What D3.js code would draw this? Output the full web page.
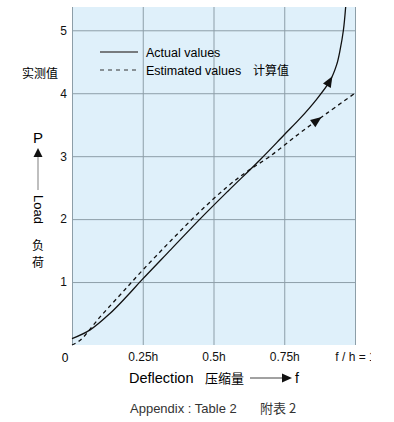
<!DOCTYPE html>
<html>
<head>
<meta charset="utf-8">
<script src="https://cdn.jsdelivr.net/npm/d3@7"></script>
<style>
  body { margin: 0; background: #fff; }
  svg { display: block; font-family: "Liberation Sans", "Noto Sans CJK SC", sans-serif; }
  .grid line { stroke: #8d9ea8; stroke-width: 1; }
  .grid path { display: none; }
  .ticks path { display: none; }
  .ticks text { font-size: 12px; fill: #111; font-family: "Liberation Sans", sans-serif; }
</style>
</head>
<body>
<svg id="chart" width="394" height="422"></svg>
<script>
// data: deflection f/h and load P
const actualX = [0, 0.064, 0.134, 0.193, 0.246, 0.35, 0.452, 0.55, 0.664, 0.75, 0.806, 0.86, 0.912, 0.935, 0.947, 0.959, 0.967];
const actualY = [0.10, 0.24, 0.50, 0.77, 1.03, 1.52, 2.00, 2.44, 2.94, 3.34, 3.60, 3.88, 4.20, 4.45, 4.68, 5.00, 5.37];
const estimatedX = [0, 0.03, 0.1, 0.175, 0.252, 0.35, 0.452, 0.55, 0.62, 0.7, 0.8, 0.9, 1.0];
const estimatedY = [0, 0.08, 0.45, 0.82, 1.20, 1.66, 2.12, 2.52, 2.76, 3.00, 3.35, 3.68, 4.00];
const arrowAt = [0.92, 0.882]; // x of arrowheads on actual / estimated
const xTicks = [0.25, 0.5, 0.75, 1];
const xTickLabels = ["0.25h", "0.5h", "0.75h", "f / h = 1"];
const yTicks = [1, 2, 3, 4, 5];

const svg = d3.select('#chart');
const plotLeft = 72, plotRight = 355, plotTop = 7, plotBottom = 345;

const xScale = d3.scaleLinear().domain([0, 1]).range([plotLeft, plotRight]);
const yScale = d3.scaleLinear().domain([0, 5.37]).range([plotBottom, plotTop]);

svg.append('rect')
  .attr('x', xScale(0))
  .attr('y', yScale(5.37))
  .attr('width', xScale(1) - xScale(0))
  .attr('height', yScale(0) - yScale(5.37))
  .attr('fill', '#dff0fa');

// grid lines
svg.append('g')
  .attr('class', 'grid')
  .attr('transform', `translate(0, ${plotBottom})`)
  .call(d3.axisBottom(xScale).tickValues([0, 0.25, 0.5, 0.75, 1]).tickSize(-(plotBottom - plotTop)).tickFormat(''));

svg.append('g')
  .attr('class', 'grid')
  .attr('transform', `translate(${plotLeft}, 0)`)
  .call(d3.axisLeft(yScale).tickValues(yTicks).tickSize(-(plotRight - plotLeft)).tickFormat(''));

// tick labels
svg.append('g')
  .attr('class', 'ticks')
  .attr('transform', `translate(${plotLeft}, 0)`)
  .call(d3.axisLeft(yScale).tickValues(yTicks).tickSize(0).tickPadding(5).tickFormat(d3.format('d')));

svg.append('defs').append('clipPath').attr('id', 'clipx')
  .append('rect').attr('x', 0).attr('y', -20).attr('width', 371).attr('height', 60);

svg.append('g')
  .attr('class', 'ticks')
  .attr('clip-path', 'url(#clipx)')
  .attr('transform', `translate(0, ${plotBottom})`)
  .call(d3.axisBottom(xScale).tickValues(xTicks).tickSize(0).tickPadding(7)
    .tickFormat((d, i) => xTickLabels[i]));

svg.append('text')
  .attr('x', xScale(0) - 7)
  .attr('y', plotBottom + 17)
  .attr('text-anchor', 'middle')
  .style('font-size', '12px')
  .text('0');

// curves
const actual = actualX.map((x, i) => [x, actualY[i]]);
const estimated = estimatedX.map((x, i) => [x, estimatedY[i]]);
const line = d3.line()
  .x(d => xScale(d[0]))
  .y(d => yScale(d[1]))
  .curve(d3.curveCatmullRom.alpha(0.5));

const actualPath = svg.append('path')
  .datum(actual)
  .attr('d', line)
  .attr('fill', 'none')
  .attr('stroke', '#111')
  .attr('stroke-width', 1.3);

const estimatedPath = svg.append('path')
  .datum(estimated)
  .attr('d', line)
  .attr('fill', 'none')
  .attr('stroke', '#111')
  .attr('stroke-width', 1.3)
  .attr('stroke-dasharray', '4,3.5');

function arrowHead(path, xVal) {
  const node = path.node();
  const total = node.getTotalLength();
  const target = xScale(xVal);
  let lo = 0, hi = total;
  for (let k = 0; k < 40; k++) {
    const mid = (lo + hi) / 2;
    if (node.getPointAtLength(mid).x < target) lo = mid; else hi = mid;
  }
  const tip = node.getPointAtLength(lo);
  const back = node.getPointAtLength(lo - 11);
  const dx = tip.x - back.x, dy = tip.y - back.y;
  const len = Math.hypot(dx, dy);
  const nx = -dy / len * 4.5, ny = dx / len * 4.5;
  svg.append('path')
    .attr('d', `M${tip.x},${tip.y}L${back.x + nx},${back.y + ny}L${back.x - nx},${back.y - ny}Z`)
    .attr('fill', '#111');
}
arrowHead(actualPath, arrowAt[0]);
arrowHead(estimatedPath, arrowAt[1]);

// legend
svg.append('line')
  .attr('x1', 100).attr('x2', 138).attr('y1', 52).attr('y2', 52)
  .attr('stroke', '#555').attr('stroke-width', 1.5);
svg.append('line')
  .attr('x1', 100).attr('x2', 138).attr('y1', 70).attr('y2', 70)
  .attr('stroke', '#333').attr('stroke-width', 1.2)
  .attr('stroke-dasharray', '4,4');
svg.append('text')
  .attr('x', 146).attr('y', 56.5)
  .style('font-size', '12.5px')
  .text('Actual values');
svg.append('text')
  .attr('x', 146).attr('y', 74.5)
  .style('font-size', '12.5px')
  .text('Estimated values');
svg.append('text')
  .attr('x', 253).attr('y', 74.5)
  .style('font-size', '12px')
  .style('font-family', '"Noto Sans CJK SC"')
  .text('计算值');

svg.append('text')
  .attr('x', 40).attr('y', 77.5)
  .attr('text-anchor', 'middle')
  .style('font-size', '12px')
  .style('font-family', '"Noto Sans CJK SC"')
  .text('实测值');

// y axis title
svg.append('text')
  .attr('x', 38).attr('y', 143)
  .attr('text-anchor', 'middle')
  .style('font-size', '15px')
  .text('P');
svg.append('path')
  .attr('d', 'M38,148L42.5,157L33.5,157Z')
  .attr('fill', '#111');
svg.append('line')
  .attr('x1', 38).attr('x2', 38).attr('y1', 157).attr('y2', 190)
  .attr('stroke', '#aaa').attr('stroke-width', 1.5);
svg.append('text')
  .attr('transform', 'translate(34, 195) rotate(90)')
  .style('font-size', '13px')
  .text('Load');
svg.append('text')
  .attr('x', 38).attr('y', 250)
  .attr('text-anchor', 'middle')
  .style('font-size', '12px')
  .style('font-family', '"Noto Sans CJK SC"')
  .text('负');
svg.append('text')
  .attr('x', 38).attr('y', 267)
  .attr('text-anchor', 'middle')
  .style('font-size', '12px')
  .style('font-family', '"Noto Sans CJK SC"')
  .text('荷');

// x axis title
svg.append('text')
  .attr('x', 129).attr('y', 383)
  .style('font-size', '14.5px')
  .text('Deflection');
svg.append('text')
  .attr('x', 205).attr('y', 383)
  .style('font-size', '13px')
  .style('font-family', '"Noto Sans CJK SC"')
  .text('压缩量');
svg.append('line')
  .attr('x1', 250).attr('x2', 282).attr('y1', 378).attr('y2', 378)
  .attr('stroke', '#444').attr('stroke-width', 1);
svg.append('path')
  .attr('d', 'M292,378L282,373.5L282,382.5Z')
  .attr('fill', '#111');
svg.append('text')
  .attr('x', 295).attr('y', 383)
  .style('font-size', '14px')
  .text('f');

// caption
svg.append('text')
  .attr('x', 130).attr('y', 413)
  .style('font-size', '13px')
  .style('fill', '#333')
  .text('Appendix : Table 2');
svg.append('text')
  .attr('x', 260).attr('y', 413)
  .style('font-size', '13px')
  .style('fill', '#333')
  .style('font-family', '"Noto Sans CJK SC"')
  .text('附表 2');
</script>
</body>
</html>
